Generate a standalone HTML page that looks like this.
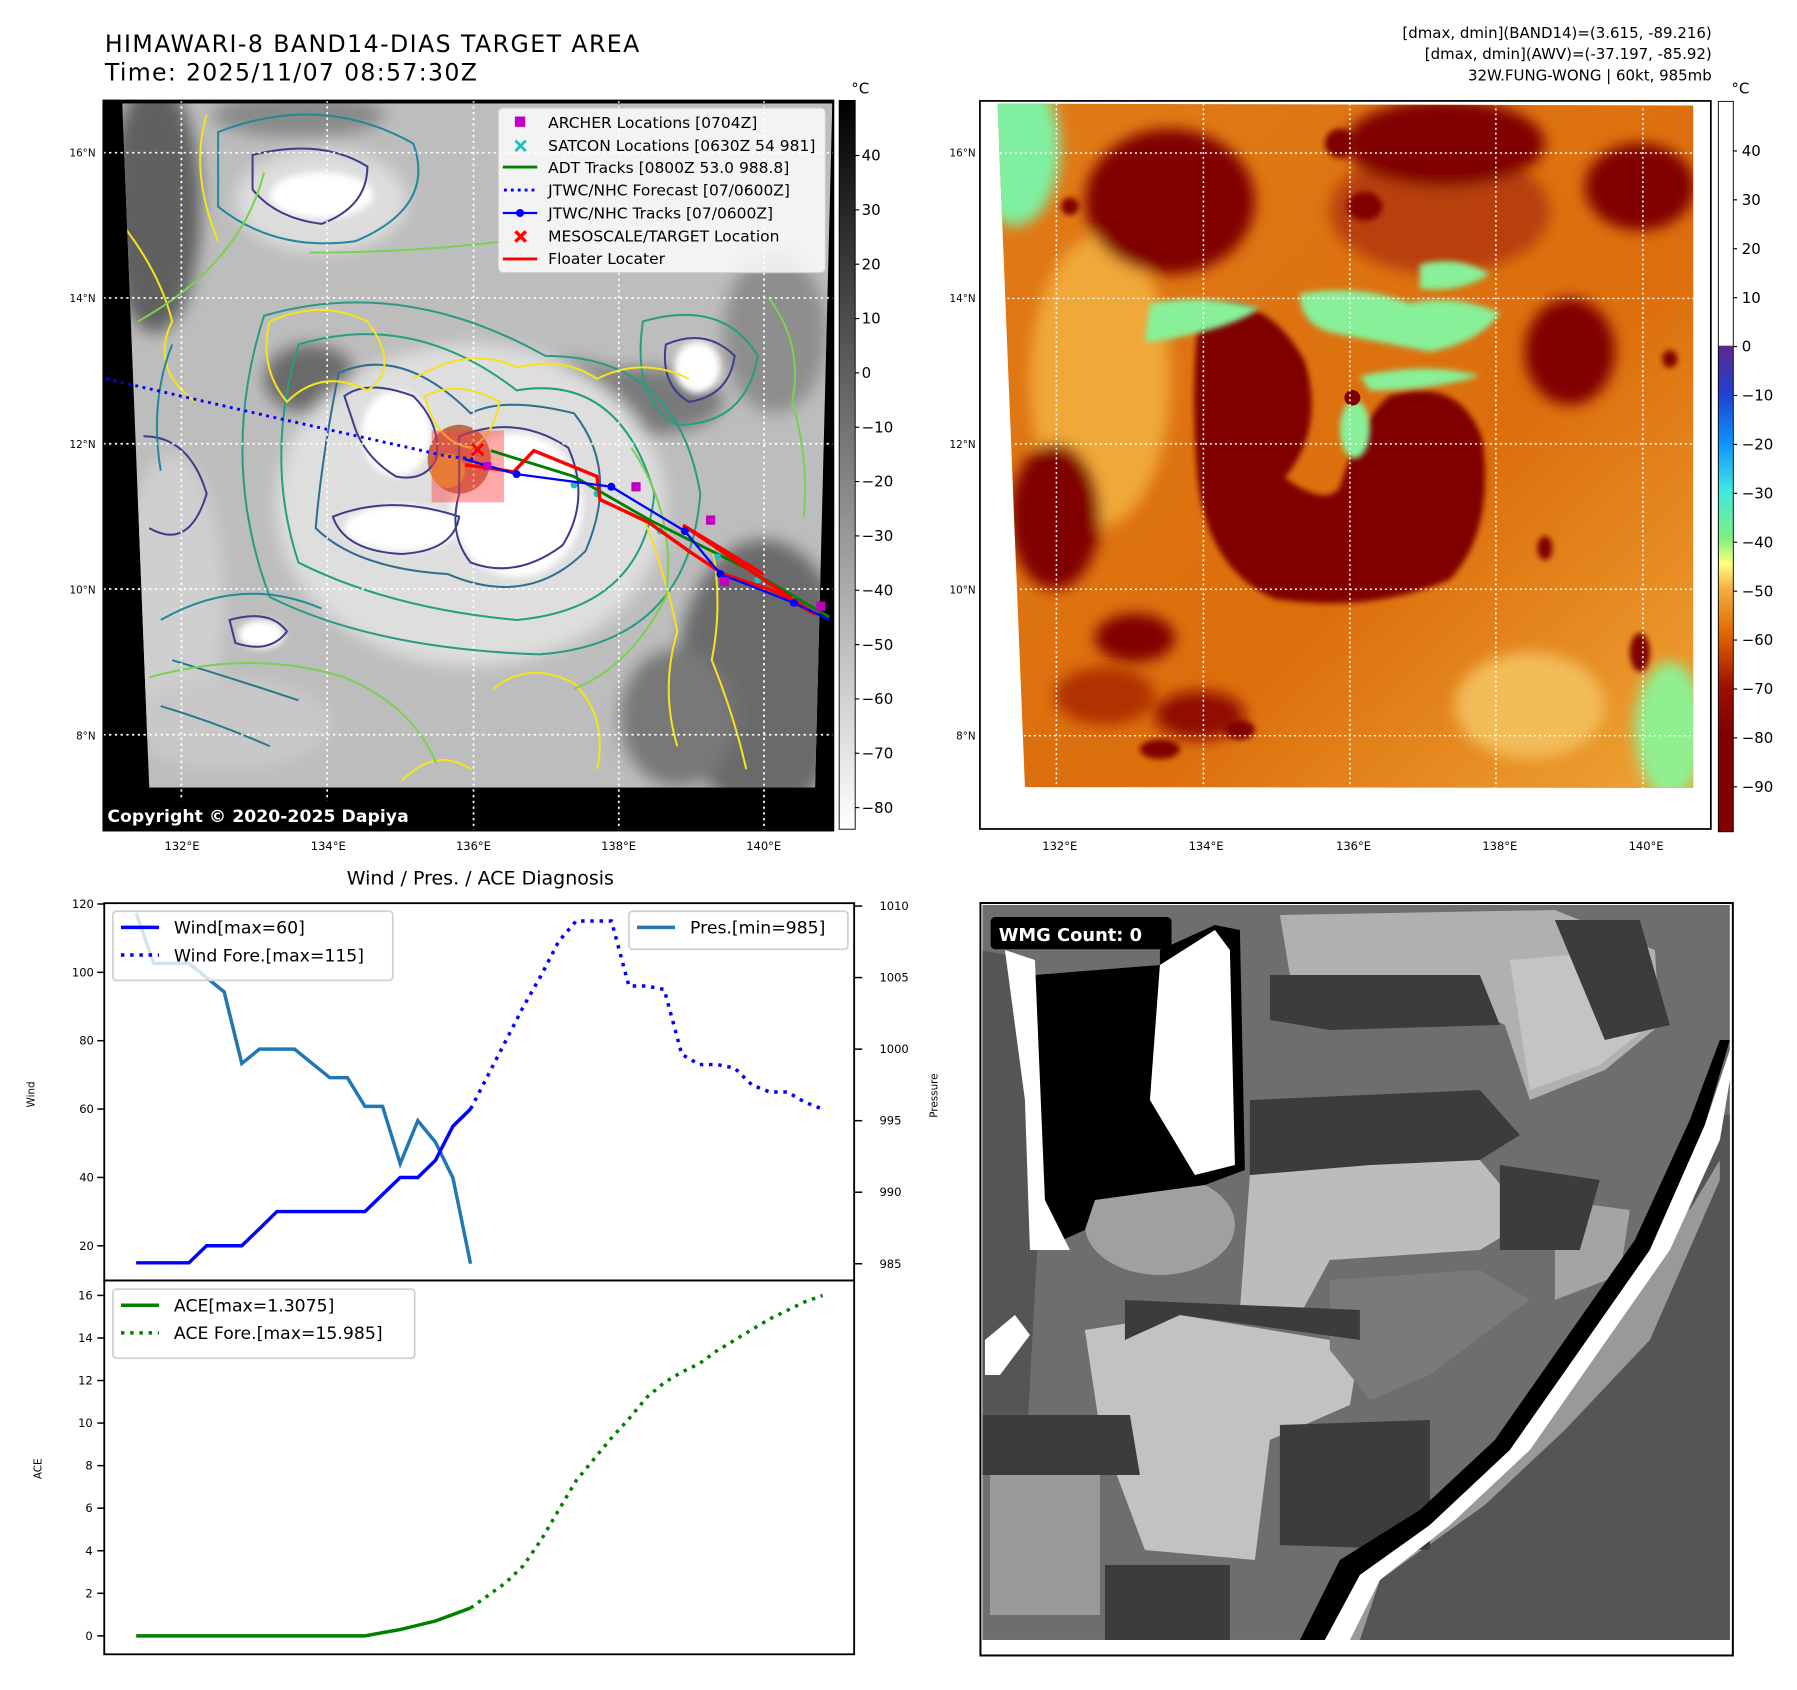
<!DOCTYPE html>
<html><head><meta charset="utf-8">
<style>
html,body{margin:0;padding:0;background:#fff;}
svg{display:block;font-family:"DejaVu Sans","Liberation Sans",sans-serif;}
</style></head>
<body>
<svg id="page" xmlns="http://www.w3.org/2000/svg" width="1797" height="1690" viewBox="0 0 1560 1467" preserveAspectRatio="none">
<defs>
 <filter id="bl" x="-20%" y="-20%" width="140%" height="140%"><feGaussianBlur stdDeviation="14"/></filter>
 <filter id="bl2" x="-20%" y="-20%" width="140%" height="140%"><feGaussianBlur stdDeviation="6"/></filter>
 <linearGradient id="gcb" x1="0" y1="0" x2="0" y2="1">
  <stop offset="0" stop-color="#000"/><stop offset="1" stop-color="#fff"/>
 </linearGradient>
 <linearGradient id="ccb" x1="0" y1="0" x2="0" y2="1">
  <stop offset="0" stop-color="#fff"/><stop offset="0.334" stop-color="#fff"/>
  <stop offset="0.335" stop-color="#5a2a8a"/><stop offset="0.40" stop-color="#2040d0"/>
  <stop offset="0.467" stop-color="#1090ff"/><stop offset="0.533" stop-color="#40e8e0"/>
  <stop offset="0.60" stop-color="#80f080"/><stop offset="0.633" stop-color="#ffff80"/>
  <stop offset="0.667" stop-color="#f4b040"/><stop offset="0.733" stop-color="#e06000"/>
  <stop offset="0.80" stop-color="#a01000"/><stop offset="0.866" stop-color="#800000"/>
  <stop offset="1" stop-color="#800000"/>
 </linearGradient>
 <linearGradient id="orng" x1="0" y1="0" x2="1" y2="1">
  <stop offset="0" stop-color="#e07c18"/><stop offset="0.6" stop-color="#dc6e0c"/><stop offset="1" stop-color="#f0a838"/>
 </linearGradient>
 <clipPath id="lclip"><polygon points="213,180 1450,180 1420,1372 260,1372"/></clipPath>
 <clipPath id="rclip"><polygon points="35,28 1427,32 1427,1440 90,1438"/></clipPath>
 <clipPath id="bclip"><rect x="5" y="10" width="1497" height="1470"/></clipPath>
</defs>

<text x="91" y="45" font-size="20.5" textLength="464">HIMAWARI-8 BAND14-DIAS TARGET AREA</text>
<text x="91" y="70" font-size="20.5" textLength="323">Time: 2025/11/07 08:57:30Z</text>
<g font-size="13" text-anchor="end">
 <text x="1486" y="33">[dmax, dmin](BAND14)=(3.615, -89.216)</text>
 <text x="1486" y="51">[dmax, dmin](AWV)=(-37.197, -85.92)</text>
 <text x="1486" y="70">32W.FUNG-WONG | 60kt, 985mb</text>
</g>
<text x="739" y="81" font-size="13">°C</text>
<text x="1503" y="81" font-size="13">°C</text>

<g transform="scale(0.4983)">
 <rect x="180" y="175" width="1272" height="1272" fill="#000"/>
 <g clip-path="url(#lclip)">
  <rect x="200" y="170" width="1260" height="1220" fill="#bdbdbd"/>
  <g filter="url(#bl)">
   <ellipse cx="270" cy="360" rx="80" ry="220" fill="#606060"/>
   <ellipse cx="520" cy="200" rx="150" ry="40" fill="#8a8a8a"/>
   <ellipse cx="540" cy="660" rx="80" ry="60" fill="#6a6a6a"/>
   <ellipse cx="880" cy="660" rx="200" ry="40" fill="#707070"/>
   <ellipse cx="1100" cy="700" rx="160" ry="60" fill="#7a7a7a"/>
   <ellipse cx="1330" cy="1180" rx="150" ry="240" fill="#6a6a6a"/>
   <ellipse cx="1180" cy="1250" rx="100" ry="120" fill="#787878"/>
   <ellipse cx="1350" cy="580" rx="90" ry="140" fill="#8e8e8e"/>
   <ellipse cx="300" cy="1050" rx="90" ry="260" fill="#cfcfcf"/>
   <ellipse cx="820" cy="880" rx="340" ry="280" fill="#dedede"/>
   <ellipse cx="560" cy="350" rx="150" ry="90" fill="#dddddd"/>
   <ellipse cx="400" cy="1260" rx="180" ry="80" fill="#c8c8c8"/>
  </g>
  <g filter="url(#bl2)">
   <ellipse cx="900" cy="880" rx="115" ry="125" fill="#fff"/>
   <ellipse cx="690" cy="755" rx="60" ry="75" fill="#fff"/>
   <ellipse cx="700" cy="920" rx="100" ry="40" fill="#fff"/>
   <ellipse cx="560" cy="340" rx="90" ry="40" fill="#fff"/>
   <ellipse cx="1215" cy="640" rx="40" ry="45" fill="#fff"/>
   <ellipse cx="455" cy="1105" rx="40" ry="25" fill="#fff"/>
  </g>
  <ellipse cx="800" cy="800" rx="55" ry="60" fill="#b05020" opacity="0.8"/>
  <ellipse cx="780" cy="820" rx="30" ry="30" fill="#e8d020" opacity="0.6"/>
  <g fill="none" stroke-width="3.5">
   <path d="M600,690 Q640,660 720,690 Q770,740 760,800 Q740,840 690,830 Q640,800 620,750 Z" stroke="#3b3f8a"/>
   <path d="M800,760 Q900,720 990,780 Q1030,870 980,950 Q900,1010 820,980 Q780,930 800,860 Z" stroke="#3b3f8a"/>
   <path d="M580,900 Q680,860 800,900 Q790,960 700,965 Q600,960 580,900 Z" stroke="#3b3f8a"/>
   <path d="M590,650 Q700,600 820,720 Q880,690 1000,720 Q1080,820 1020,960 Q920,1060 780,1000 Q620,990 550,920 Q560,800 590,650 Z" stroke="#2f6e8e"/>
   <path d="M520,600 Q720,540 900,680 Q1080,650 1140,860 Q1120,1060 900,1080 Q680,1060 520,980 Q460,800 520,600 Z" stroke="#22a080"/>
   <path d="M460,550 Q700,480 950,620 Q1180,620 1220,860 Q1200,1120 940,1140 Q650,1130 470,1040 Q380,800 460,550 Z" stroke="#2a9a86"/>
   <path d="M440,270 Q560,240 640,290 Q640,360 560,390 Q480,380 440,330 Z" stroke="#3b3f8a"/>
   <path d="M380,230 Q560,160 720,250 Q760,360 620,420 Q480,440 380,360 Z" stroke="#23889a"/>
   <path d="M1160,600 Q1230,570 1280,620 Q1270,690 1200,700 Q1150,670 1160,600 Z" stroke="#3b3f8a"/>
   <path d="M1120,560 Q1260,520 1320,620 Q1300,740 1180,740 Q1100,700 1120,560 Z" stroke="#22a080"/>
   <path d="M400,1080 Q470,1060 500,1100 Q470,1140 410,1120 Z" stroke="#3b3f8a"/>
   <path d="M250,760 Q330,760 360,860 Q330,960 260,920" stroke="#3b3f8a"/>
   <path d="M300,1150 Q400,1180 520,1220 M280,1230 Q380,1260 470,1300" stroke="#2a788e"/>
   <path d="M220,400 Q280,480 300,560 Q260,640 340,700 M360,200 Q330,300 380,420" stroke="#f5e31c"/>
   <path d="M470,560 Q560,520 640,560 Q700,640 640,680 Q560,640 500,700 Q450,640 470,560" stroke="#f5e31c"/>
   <path d="M720,660 Q820,600 900,640 Q980,620 1040,660 Q1120,620 1200,660" stroke="#f5e31c"/>
   <path d="M740,690 Q800,660 870,700 Q860,760 820,780 Q760,770 740,690 Z" stroke="#f5e31c"/>
   <path d="M1120,900 Q1160,1000 1180,1100 Q1150,1200 1180,1300 M1240,950 Q1260,1050 1240,1150 Q1280,1250 1300,1340" stroke="#f5e31c"/>
   <path d="M860,1200 Q920,1150 1000,1190 Q1060,1250 1040,1340 M700,1360 Q760,1300 820,1340" stroke="#f5e31c"/>
   <path d="M1340,520 Q1400,600 1380,700 Q1410,800 1400,900" stroke="#7ad151"/>
   <path d="M240,560 Q420,460 460,300 M540,440 Q720,440 880,420" stroke="#7ad151"/>
   <path d="M1100,780 Q1180,900 1160,1040 Q1100,1160 1000,1200" stroke="#7ad151"/>
   <path d="M260,1180 Q440,1130 600,1180 Q720,1230 760,1330" stroke="#7ad151"/>
   <path d="M280,1080 Q420,1000 560,1060 M300,600 Q260,700 280,820" stroke="#23889a"/>
  </g>
 </g>
 <g stroke="#fff" stroke-width="3" stroke-dasharray="4,6">
  <line x1="180" y1="266" x2="1452" y2="266"/><line x1="180" y1="519" x2="1452" y2="519"/>
  <line x1="180" y1="773" x2="1452" y2="773"/><line x1="180" y1="1026" x2="1452" y2="1026"/>
  <line x1="180" y1="1280" x2="1452" y2="1280"/>
  <line x1="316" y1="175" x2="316" y2="1447"/><line x1="570" y1="175" x2="570" y2="1447"/>
  <line x1="825" y1="175" x2="825" y2="1447"/><line x1="1078" y1="175" x2="1078" y2="1447"/>
  <line x1="1331" y1="175" x2="1331" y2="1447"/>
 </g>
 <rect x="752" y="750" width="126" height="125" fill="#ff4040" opacity="0.45"/>
 <polyline points="185,660 490,730 780,795 830,800" fill="none" stroke="#0000ff" stroke-width="5" stroke-dasharray="5,8"/>
 <polyline points="855,785 1000,830 1130,905 1300,990 1445,1075" fill="none" stroke="#008000" stroke-width="5"/>
 <g fill="#20c0c0">
  <circle cx="1000" cy="845" r="6"/><circle cx="1040" cy="860" r="6"/><circle cx="1150" cy="925" r="6"/><circle cx="1250" cy="970" r="6"/><circle cx="1320" cy="1010" r="6"/><circle cx="1380" cy="1045" r="6"/>
 </g>
 <polyline points="810,810 850,815 895,822 930,785 1040,830 1045,870 1130,910 1200,960 1260,1000 1350,1030 1420,1070 1190,915 1330,1000" fill="none" stroke="#ff0000" stroke-width="6"/>
 <polyline points="810,800 900,826 1065,848 1193,925 1255,1000 1383,1050 1445,1080" fill="none" stroke="#0000ff" stroke-width="4"/>
 <g fill="#0000ff"><circle cx="900" cy="826" r="7"/><circle cx="1065" cy="848" r="7"/><circle cx="1193" cy="925" r="7"/><circle cx="1255" cy="1000" r="7"/><circle cx="1383" cy="1050" r="7"/></g>
 <g fill="#c000c0">
  <rect x="1100" y="840" width="16" height="16"/><rect x="1230" y="898" width="16" height="16"/><rect x="1254" y="1005" width="16" height="16"/><rect x="1422" y="1048" width="16" height="16"/><rect x="842" y="805" width="14" height="14"/>
 </g>
 <path d="M822,773 L842,793 M842,773 L822,793" stroke="#ff0000" stroke-width="5"/>
 <g>
  <rect x="868" y="188" width="570" height="287" rx="8" fill="#fff" fill-opacity="0.82" stroke="#ccc" stroke-width="2"/>
  <g font-size="27">
   <rect x="897" y="203" width="18" height="18" fill="#c000c0"/><text x="955" y="223">ARCHER Locations [0704Z]</text>
   <path d="M898,245 L916,263 M916,245 L898,263" stroke="#20c0c0" stroke-width="5"/><text x="955" y="263">SATCON Locations [0630Z 54 981]</text>
   <line x1="876" y1="291" x2="936" y2="291" stroke="#008000" stroke-width="5"/><text x="955" y="301">ADT Tracks [0800Z 53.0 988.8]</text>
   <line x1="878" y1="331" x2="936" y2="331" stroke="#0000ff" stroke-width="5" stroke-dasharray="5,7"/><text x="955" y="341">JTWC/NHC Forecast [07/0600Z]</text>
   <line x1="876" y1="371" x2="936" y2="371" stroke="#0000ff" stroke-width="4"/><circle cx="906" cy="371" r="7" fill="#0000ff"/><text x="955" y="381">JTWC/NHC Tracks [07/0600Z]</text>
   <path d="M898,403 L916,421 M916,403 L898,421" stroke="#ff0000" stroke-width="6"/><text x="955" y="421">MESOSCALE/TARGET Location</text>
   <line x1="876" y1="451" x2="936" y2="451" stroke="#ff0000" stroke-width="5"/><text x="955" y="460">Floater Locater</text>
  </g>
 </g>
 <rect x="180" y="1395" width="540" height="52" rx="6" fill="#000"/>
 <text x="187" y="1432" font-size="30" font-weight="bold" fill="#fff" textLength="525">Copyright © 2020-2025 Dapiya</text>
</g>
<rect x="89.7" y="87.2" width="633.8" height="633.8" fill="none" stroke="#000" stroke-width="1.5"/>
<g font-size="9" text-anchor="end">
 <text x="83" y="136">16°N</text><text x="83" y="262">14°N</text><text x="83" y="389">12°N</text><text x="83" y="515">10°N</text><text x="83" y="642">8°N</text>
</g>
<g font-size="10" text-anchor="middle">
 <text x="158" y="738">132°E</text><text x="285" y="738">134°E</text><text x="411" y="738">136°E</text><text x="537" y="738">138°E</text><text x="663" y="738">140°E</text>
</g>
<g>
 <rect x="728.5" y="87.2" width="13.9" height="632.6" fill="url(#gcb)" stroke="#000" stroke-width="0.8"/>
 <g font-size="13" id="lcbt"></g>
</g>

<g transform="translate(850.7,78.1) scale(0.434,0.4208)">
 <g clip-path="url(#rclip)">
  <rect x="0" y="0" width="1460" height="1460" fill="url(#orng)"/>
  <g filter="url(#bl)">
   <ellipse cx="70" cy="120" rx="90" ry="160" fill="#80f0a0"/>
   <ellipse cx="1380" cy="1320" rx="70" ry="140" fill="#90f090"/>
   <ellipse cx="1100" cy="1270" rx="150" ry="110" fill="#f2bc58"/>
   <ellipse cx="240" cy="600" rx="140" ry="300" fill="#f0a838"/>
   <ellipse cx="920" cy="250" rx="220" ry="130" fill="#b84008"/>
   <ellipse cx="380" cy="230" rx="170" ry="150" fill="#800000"/>
   <ellipse cx="930" cy="110" rx="200" ry="90" fill="#800000"/>
   <ellipse cx="1320" cy="200" rx="110" ry="90" fill="#800000"/>
   <ellipse cx="1180" cy="540" rx="90" ry="110" fill="#800000"/>
   <ellipse cx="150" cy="880" rx="90" ry="150" fill="#800000"/>
   <ellipse cx="310" cy="1130" rx="80" ry="50" fill="#800000"/>
   <ellipse cx="440" cy="1290" rx="90" ry="50" fill="#900800"/>
   <ellipse cx="250" cy="1250" rx="100" ry="60" fill="#b03000"/>
  </g>
  <path d="M440,450 Q570,410 650,560 Q690,700 610,800 Q690,860 720,820 Q760,680 820,630 Q960,590 1005,720 Q1030,910 940,1010 Q780,1080 590,1050 Q455,990 435,800 Q420,600 440,450 Z" fill="#800000" filter="url(#bl2)"/>
  <g filter="url(#bl2)" fill="#88f098">
   <path d="M340,440 Q450,420 560,450 Q520,480 440,500 Q360,520 330,520 Z"/>
   <path d="M640,420 Q760,400 860,440 Q950,420 1040,460 Q1000,520 900,540 Q800,520 700,500 Q640,480 640,420 Z"/>
   <path d="M760,590 Q900,560 1000,590 Q900,620 780,620 Z"/>
   <path d="M880,360 Q960,340 1020,380 Q960,420 880,410 Z"/>
   <ellipse cx="750" cy="700" rx="30" ry="60"/>
  </g>
  <circle cx="745" cy="635" r="16" fill="#800000"/>
  <g fill="#800000" filter="url(#bl2)">
   <ellipse cx="180" cy="240" rx="18" ry="18"/><ellipse cx="770" cy="240" rx="35" ry="30"/><ellipse cx="720" cy="110" rx="30" ry="30"/>
   <ellipse cx="1380" cy="555" rx="15" ry="18"/><ellipse cx="1130" cy="945" rx="15" ry="25"/><ellipse cx="1320" cy="1160" rx="20" ry="40"/>
   <ellipse cx="360" cy="1360" rx="40" ry="20"/><ellipse cx="520" cy="1320" rx="30" ry="20"/>
  </g>
 </g>
 <g stroke="#fff" stroke-width="3" stroke-dasharray="4,6">
  <line x1="40" y1="130" x2="1427" y2="130"/><line x1="55" y1="430" x2="1427" y2="430"/>
  <line x1="70" y1="730" x2="1427" y2="730"/><line x1="80" y1="1030" x2="1427" y2="1030"/>
  <line x1="88" y1="1332" x2="1427" y2="1332"/>
  <line x1="153" y1="28" x2="153" y2="1440"/><line x1="447" y1="28" x2="447" y2="1440"/>
  <line x1="740" y1="28" x2="740" y2="1440"/><line x1="1032" y1="28" x2="1032" y2="1440"/>
  <line x1="1326" y1="28" x2="1326" y2="1440"/>
 </g>
</g>
<rect x="850.7" y="87.6" width="634.5" height="632" fill="none" stroke="#000" stroke-width="1.5"/>
<g font-size="9" text-anchor="end">
 <text x="847" y="136">16°N</text><text x="847" y="262">14°N</text><text x="847" y="389">12°N</text><text x="847" y="515">10°N</text><text x="847" y="642">8°N</text>
</g>
<g font-size="10" text-anchor="middle">
 <text x="920" y="738">132°E</text><text x="1047" y="738">134°E</text><text x="1175" y="738">136°E</text><text x="1302" y="738">138°E</text><text x="1429" y="738">140°E</text>
</g>
<g>
 <rect x="1491.7" y="88" width="13" height="634" fill="url(#ccb)" stroke="#000" stroke-width="0.8"/>
 <g font-size="13" id="rcbt"></g>
</g>

<g transform="translate(850.7,781.25) scale(0.434)">
 <rect x="0" y="5" width="1507" height="1507" fill="#fff"/>
 <g clip-path="url(#bclip)">
  <rect x="0" y="10" width="1500" height="1470" fill="#6e6e6e"/>
  <polygon points="0,100 110,120 120,600 90,1150 0,1150" fill="#555"/>
  <polygon points="1480,430 1500,430 1500,1480 750,1480 780,1350 1000,1200 1150,1050 1300,850 1420,620" fill="#555"/>
  <polygon points="1420,620 1480,520 1480,560 1340,880 1170,1060 1010,1210 800,1360 760,1480 720,1480 740,1340 980,1180 1130,1030 1280,840 1400,600" fill="#999"/>
  <polygon points="210,860 400,830 760,890 740,1010 580,1080 550,1320 330,1300 240,1060" fill="#c2c2c2"/>
  <polygon points="540,550 780,530 1000,520 1100,640 1000,700 700,720 640,830 520,820" fill="#bcbcbc"/>
  <polygon points="600,30 1150,20 1350,100 1360,250 1250,340 1100,400 1050,250 850,150 620,150" fill="#b0b0b0"/>
  <polygon points="1060,120 1300,100 1340,250 1240,330 1100,380" fill="#c4c4c4"/>
  <ellipse cx="360" cy="650" rx="150" ry="100" fill="#a0a0a0"/>
  <polygon points="20,1150 240,1150 240,1430 20,1430" fill="#9a9a9a"/>
  <polygon points="1150,600 1300,620 1280,750 1150,800" fill="#a4a4a4"/>
  <polygon points="700,760 1000,740 1100,800 900,950 780,1000 700,900" fill="#7a7a7a"/>
  <g fill="#3c3c3c">
   <polygon points="540,400 1000,380 1080,470 1000,520 780,530 540,550"/>
   <polygon points="290,800 760,820 760,880 400,830 290,880"/>
   <polygon points="0,1030 300,1030 320,1150 0,1150"/>
   <polygon points="600,1050 900,1040 900,1300 600,1290"/>
   <polygon points="580,150 1000,150 1040,250 700,260 580,240"/>
   <polygon points="1040,530 1240,560 1200,700 1040,700"/>
   <polygon points="250,1330 500,1330 500,1480 250,1480"/>
   <polygon points="160,180 280,180 300,380 160,320"/>
   <polygon points="1150,40 1320,40 1380,250 1250,280"/>
  </g>
  <polygon points="110,150 360,130 360,100 470,50 520,60 530,540 450,570 230,600 210,660 120,700 110,300" fill="#000"/>
  <polygon points="360,130 470,60 500,100 510,530 430,550 340,400" fill="#fff"/>
  <polygon points="50,100 110,120 130,600 180,700 100,700 90,400" fill="#fff"/>
  <polygon points="1480,280 1500,280 1450,450 1340,700 1200,900 1060,1100 900,1250 760,1350 690,1480 640,1480 720,1320 880,1220 1030,1080 1170,880 1310,680 1420,440" fill="#000"/>
  <polygon points="1500,300 1510,300 1480,480 1380,700 1240,900 1100,1100 940,1250 800,1360 740,1480 690,1480 760,1350 900,1250 1060,1100 1200,900 1340,700 1450,450" fill="#fff"/>
  <polygon points="10,880 70,830 100,870 40,950 10,950" fill="#fff"/>
 </g>
 <rect x="1" y="6" width="1505" height="1505" fill="none" stroke="#000" stroke-width="4"/>
</g>
<rect x="860" y="796" width="157" height="28" rx="4" fill="#000"/>
<text x="867" y="817" font-size="15.5" font-weight="bold" fill="#fff">WMG Count: 0</text>

<text x="417" y="768" font-size="16.5" text-anchor="middle">Wind / Pres. / ACE Diagnosis</text>
<g id="chart"></g>
</svg>

<script>
const stepIndexObs = [0,1,2,3,4,5,6,7,8,9,10,11,12,13,14,15,16,17,18,19];
const windObs = [15,15,15,15,20,20,20,25,30,30,30,30,30,30,35,40,40,45,55,60];
const presObs = [1009.5,1006,1006,1006,1005,1004,999,1000,1000,1000,999,998,998,996,996,992,995,993.5,991,985];
const aceObs = [0,0,0,0,0,0,0,0,0,0,0,0,0,0,0.15,0.3,0.5,0.7,1.0,1.31];
const stepIndexFore = [19,20,21,22,23,24,25,26,27,28,29,30,31,32,33,34,35,36,37,38,39];
const windFore = [60,70,80,90,99,109,115,115,115,96,96,95,76,73,73,72,67,65,65,62,60];
const aceFore = [1.31,1.9,2.5,3.3,4.5,5.9,7.3,8.3,9.3,10.2,11.2,11.9,12.4,12.8,13.4,13.9,14.4,14.9,15.3,15.7,16.0];
const windTicks = [20,40,60,80,100,120];
const presTicks = [985,990,995,1000,1005,1010];
const aceTicks = [0,2,4,6,8,10,12,14,16];
const leftCbTicks = [40,30,20,10,0,-10,-20,-30,-40,-50,-60,-70,-80];
const rightCbTicks = [40,30,20,10,0,-10,-20,-30,-40,-50,-60,-70,-80,-90];

const NS = 'http://www.w3.org/2000/svg';
const fx = k => 118.2 + k * 15.28;
const yW = v => 784.7 + (120 - v) * 2.967;
const yP = p => 786.5 + (1010 - p) * 12.42;
const yA = a => 1420 - a * 18.47;
const L = 90.5, R = 741.5, T1 = 784, MID = 1111.5, B = 1436;

function mk(tag, attrs, parent) {
  const e = document.createElementNS(NS, tag);
  for (const k in attrs) e.setAttribute(k, attrs[k]);
  parent.appendChild(e);
  return e;
}
const chart = document.getElementById('chart');
function pts(xs, ys, fy) { return xs.map((k, i) => fx(k).toFixed(1) + ',' + fy(ys[i]).toFixed(1)).join(' '); }

windTicks.forEach(v => {
  const t = mk('line', {x1: L - 6, x2: L, y1: yW(v), y2: yW(v), stroke: '#000', 'stroke-width': 1.3}, chart);
  
  
  const tx = mk('text', {x: L - 9, y: yW(v) + 3.5, 'font-size': 10, 'text-anchor': 'end'}, chart);
  tx.textContent = v;
  
  
});
presTicks.forEach(v => {
  const t = mk('line', {x1: R, x2: R + 7, y1: yP(v), y2: yP(v), stroke: '#000', 'stroke-width': 1.3}, chart);
  
  
  const tx = mk('text', {x: R + 22, y: yP(v) + 3.5, 'font-size': 10}, chart);
  tx.textContent = v;
  
  
});
aceTicks.forEach(v => {
  const t = mk('line', {x1: L - 6, x2: L, y1: yA(v), y2: yA(v), stroke: '#000', 'stroke-width': 1.3}, chart);
  
  
  const tx = mk('text', {x: L - 10, y: yA(v) + 3.5, 'font-size': 10, 'text-anchor': 'end'}, chart);
  tx.textContent = v;
  
  
});
[['Wind', 30, 950, 'wind-axis-title'], ['Pressure', 814, 951, 'pressure-axis-title'], ['ACE', 36, 1275, 'ace-axis-title']].forEach(a => {
  const tx = mk('text', {x: a[1], y: a[2], 'font-size': 9, 'text-anchor': 'middle', transform: 'rotate(-90 ' + a[1] + ' ' + a[2] + ')'}, chart);
  tx.textContent = a[0];
  
  
});

const pl = mk('polyline', {points: pts(stepIndexObs, presObs, yP), fill: 'none', stroke: '#1f77b4', 'stroke-width': 3}, chart);


const wl = mk('polyline', {points: pts(stepIndexObs, windObs, yW), fill: 'none', stroke: '#0000ff', 'stroke-width': 3}, chart);


const wf = mk('polyline', {points: pts(stepIndexFore, windFore, yW), fill: 'none', stroke: '#0000ff', 'stroke-width': 3, 'stroke-dasharray': '3,5'}, chart);


const al = mk('polyline', {points: pts(stepIndexObs, aceObs, yA), fill: 'none', stroke: '#008000', 'stroke-width': 3}, chart);


const af = mk('polyline', {points: pts(stepIndexFore, aceFore, yA), fill: 'none', stroke: '#008000', 'stroke-width': 3, 'stroke-dasharray': '3,5'}, chart);



const f1 = mk('rect', {x: L, y: T1, width: R - L, height: MID - T1, fill: 'none', stroke: '#000', 'stroke-width': 1.6}, chart);


const f2 = mk('rect', {x: L, y: MID, width: R - L, height: B - MID, fill: 'none', stroke: '#000', 'stroke-width': 1.6}, chart);



function legend(name, x, y, w, h, items) {
  const g = mk('g', {}, chart);
  
  
  mk('rect', {x: x, y: y, width: w, height: h, rx: 3, fill: '#fff', 'fill-opacity': 0.8, stroke: '#d0d0d0', 'stroke-width': 1.5}, g);
  items.forEach((it, i) => {
    const yy = y + 14 + i * 24;
    mk('line', {x1: x + 7, x2: x + 40, y1: yy, y2: yy, stroke: it.c, 'stroke-width': 3, 'stroke-dasharray': it.d || 'none'}, g);
    const t = mk('text', {x: x + 53, y: yy + 5.5, 'font-size': 15}, g);
    t.textContent = it.t;
  });
}
legend('wind-legend', 98, 791, 243, 60, [{c: '#0000ff', t: 'Wind[max=60]'}, {c: '#0000ff', d: '3,5', t: 'Wind Fore.[max=115]'}]);
legend('pressure-legend', 546, 791, 190, 33, [{c: '#1f77b4', t: 'Pres.[min=985]'}]);
legend('ace-legend', 98, 1119, 262, 60, [{c: '#008000', t: 'ACE[max=1.3075]'}, {c: '#008000', d: '3,5', t: 'ACE Fore.[max=15.985]'}]);

const lcb = document.getElementById('lcbt');
leftCbTicks.forEach(v => {
  const y = 135 + (40 - v) * 4.717;
  mk('line', {x1: 742.4, x2: 746, y1: y, y2: y, stroke: '#000', 'stroke-width': 1}, lcb);
  const t = mk('text', {x: 748, y: y + 4.5}, lcb);
  t.textContent = v < 0 ? '\u2212' + (-v) : v;
  
  
});
const rcb = document.getElementById('rcbt');
rightCbTicks.forEach(v => {
  const y = 131 + (40 - v) * 4.246;
  mk('line', {x1: 1504.7, x2: 1508, y1: y, y2: y, stroke: '#000', 'stroke-width': 1}, rcb);
  const t = mk('text', {x: 1512, y: y + 4.5}, rcb);
  t.textContent = v < 0 ? '\u2212' + (-v) : v;
  
  
});
</script>
</body></html>
